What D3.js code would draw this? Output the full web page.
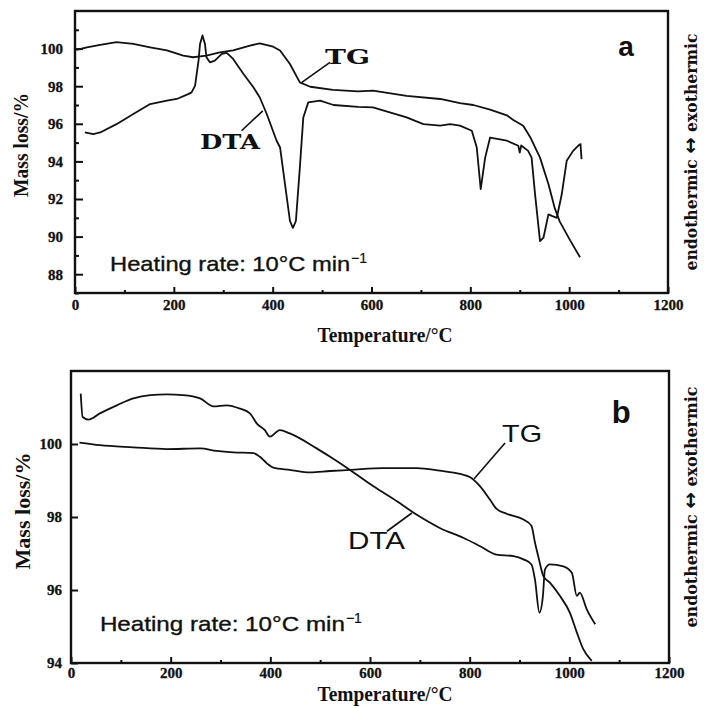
<!DOCTYPE html>
<html><head><meta charset="utf-8">
<script src="https://cdn.jsdelivr.net/npm/d3@7/dist/d3.min.js"></script>
<style>body{margin:0;background:#fff}svg{display:block}</style>
</head><body>
<script>
// ---------- data ----------
const xTicks = [0, 200, 400, 600, 800, 1000, 1200];
const xMinorTicks = [100, 300, 500, 700, 900, 1100];
const yTicksA = [88, 90, 92, 94, 96, 98, 100];
const yMinorA = [87, 89, 91, 93, 95, 97, 99, 101];
const yTicksB = [94, 96, 98, 100];
const yMinorB = [];

// Panel a: [temperature °C, value]
const tgA = [[3,99.93],[24,100.07],[51,100.2],[84,100.34],[118,100.25],[152,100.07],[186,99.9],[219,99.63],[239,99.54],[266,99.63],[293,99.8],[320,99.9],[354,100.16],[374,100.28],[401,100.1],[415,99.9],[435,99.18],[455,98.2],[476,97.97],[522,97.8],[573,97.72],[603,97.76],[671,97.49],[739,97.32],[779,97.1],[806,97.0],[840,96.75],[874,96.45],[887,96.2],[907,95.9],[921,95.3],[941,94.2],[958,92.8],[971,91.5],[981,90.8],[1002,89.8],[1022,88.9]];
const dtaA = [[20,95.54],[37,95.45],[51,95.54],[84,95.98],[118,96.52],[152,97.05],[186,97.23],[206,97.32],[229,97.58],[236,97.67],[243,98.03],[250,99.36],[253,100.25],[258,100.7],[263,100.25],[266,99.54],[273,99.27],[283,99.36],[297,99.72],[307,99.77],[320,99.45],[341,98.65],[361,97.94],[374,97.4],[388,96.52],[408,95.1],[415,94.74],[425,92.78],[435,90.83],[441,90.47],[447,90.83],[455,93.67],[462,96.34],[472,97.14],[496,97.23],[523,97.0],[573,96.9],[603,96.87],[671,96.34],[705,95.98],[739,95.9],[759,95.98],[779,95.9],[803,95.63],[813,94.74],[821,92.52],[830,94.2],[840,95.27],[874,95.1],[897,94.83],[900,94.47],[903,94.85],[917,94.56],[924,94.2],[931,92.25],[941,89.76],[948,89.94],[958,91.18],[965,91.1],[975,91.0],[985,92.25],[995,94.03],[1008,94.56],[1018,94.83],[1023,94.92],[1025,94.12]];

// Panel b
const tgB = [[17,100.04],[58,99.97],[125,99.91],[192,99.86],[259,99.88],[292,99.81],[326,99.77],[366,99.75],[379,99.65],[393,99.47],[406,99.35],[439,99.29],[480,99.22],[520,99.26],[560,99.29],[627,99.34],[694,99.34],[740,99.27],[781,99.18],[801,99.09],[821,98.84],[841,98.47],[854,98.22],[874,98.09],[908,97.93],[924,97.76],[931,97.3],[938,96.9],[948,96.38],[961,96.2],[981,95.84],[1001,95.38],[1015,94.84],[1028,94.38],[1045,94.06]];
const dtaB = [[19.5,101.38],[23.4,100.74],[35,100.67],[58,100.84],[92,101.06],[125,101.25],[159,101.34],[192,101.36],[225,101.34],[259,101.25],[286,101.03],[312,101.06],[339,100.97],[359,100.84],[373,100.56],[389,100.38],[399,100.2],[419,100.38],[439,100.29],[493,99.88],[520,99.65],[560,99.29],[607,98.84],[654,98.43],[694,98.06],[740,97.7],[787,97.43],[821,97.2],[854,96.97],[888,96.93],[908,96.84],[924,96.7],[931,96.29],[940,95.38],[947,95.84],[951,96.56],[961,96.7],[988,96.65],[1005,96.47],[1015,95.84],[1021,95.93],[1035,95.47],[1052,95.06]];

// annotations (data coordinates)
const leadersA = [[[459,98.2],[516,99.27]], [[337,95.63],[380,96.69]]];
const leadersB = [[[809,99.05],[871,100.03]], [[634,97.61],[684,98.11]]];
const seriesLabelsA = [{t:"TG", x:506, y:99.2, len:45}, {t:"DTA", x:253, y:94.67, len:60}];
const seriesLabelsB = [{t:"TG", x:865, y:100.05, len:40}, {t:"DTA", x:556, y:97.11, len:57}];
const panelLetters = [{t:"a", x:1115, y:99.63}, {t:"b", x:1104, y:100.57}];
const heatingPos = [{x:71, y:88.16}, {x:58, y:94.87}];

// ---------- drawing ----------
const W = 704, H = 708;
const svg = d3.select("body").append("svg").attr("width", W).attr("height", H);

const panels = [
  {id:"a", left:75, right:668, top:11, bottom:293, yDomain:[87,102], yTicks:yTicksA, yMinor:yMinorA,
   tg:tgA, dta:dtaA, leaders:leadersA, labels:seriesLabelsA, serif:true, letter:panelLetters[0], heat:heatingPos[0],
   heatLen:240, heatSize:21, xPad:6, yPad:12, yTickLen:8, massLen:104, massSize:20, massX:28, massY:145,
   tempY:342, endoY:152, endoLen:237, letterSize:28},
  {id:"b", left:71, right:669, top:371, bottom:663, yDomain:[94,102], yTicks:yTicksB, yMinor:yMinorB,
   tg:tgB, dta:dtaB, leaders:leadersB, labels:seriesLabelsB, serif:false, letter:panelLetters[1], heat:heatingPos[1],
   heatLen:245, heatSize:21, xPad:4, yPad:9, yTickLen:7, massLen:117, massSize:21, massX:30, massY:511,
   tempY:701, endoY:507, endoLen:241, letterSize:31}
];

const serif = "'Liberation Serif','Times New Roman',serif";
const sans = "'Liberation Sans',Arial,sans-serif";

panels.forEach((p, i) => {
  const g = svg.append("g");
  const x = d3.scaleLinear().domain([0, 1200]).range([p.left, p.right]);
  const y = d3.scaleLinear().domain(p.yDomain).range([p.bottom, p.top]);

  const clipId = "clip" + p.id;
  svg.append("clipPath").attr("id", clipId).append("rect")
    .attr("x", p.left).attr("y", p.top).attr("width", p.right - p.left).attr("height", p.bottom - p.top);

  // axes
  g.append("g").attr("transform", `translate(0,${p.bottom})`)
    .call(d3.axisBottom(x).tickValues(xTicks).tickSizeInner(-6).tickSizeOuter(0).tickPadding(p.xPad).tickFormat(d3.format("d")));
  g.append("g").attr("transform", `translate(0,${p.bottom})`)
    .call(d3.axisBottom(x).tickValues(xMinorTicks).tickSizeInner(-3).tickSizeOuter(0).tickFormat(""));
  g.append("g").attr("transform", `translate(${p.left},0)`)
    .call(d3.axisLeft(y).tickValues(p.yTicks).tickSizeInner(-p.yTickLen).tickSizeOuter(0).tickPadding(p.yPad).tickFormat(d3.format("d")));
  if (p.yMinor.length) g.append("g").attr("transform", `translate(${p.left},0)`)
    .call(d3.axisLeft(y).tickValues(p.yMinor).tickSizeInner(-4).tickSizeOuter(0).tickFormat(""));
  g.selectAll(".domain").remove();
  g.selectAll(".tick line").attr("stroke", "#111").attr("stroke-width", 2);
  g.selectAll(".tick text").attr("font-family", serif).attr("font-weight", "bold").attr("font-size", 15)
    .attr("fill", "#111").attr("stroke", "#111").attr("stroke-width", 0.3);

  // frame
  g.append("rect").attr("x", p.left).attr("y", p.top).attr("width", p.right - p.left).attr("height", p.bottom - p.top)
    .attr("fill", "none").attr("stroke", "#111").attr("stroke-width", 2.4);

  // curves
  const line = d3.line().x(d => x(d[0])).y(d => y(d[1])).curve(p.serif ? d3.curveLinear : d3.curveMonotoneX);
  const cg = g.append("g").attr("clip-path", `url(#${clipId})`);
  [p.tg, p.dta].forEach(s => cg.append("path").datum(s).attr("d", line)
    .attr("fill", "none").attr("stroke", "#111").attr("stroke-width", 1.8).attr("stroke-linejoin", "round"));

  // leader lines
  p.leaders.forEach(l => g.append("line")
    .attr("x1", x(l[0][0])).attr("y1", y(l[0][1])).attr("x2", x(l[1][0])).attr("y2", y(l[1][1]))
    .attr("stroke", "#111").attr("stroke-width", 1.6));

  // series labels
  p.labels.forEach(l => g.append("text").attr("x", x(l.x)).attr("y", y(l.y)).text(l.t)
    .attr("font-family", p.serif ? "'DejaVu Serif',serif" : sans)
    .attr("font-weight", p.serif ? "bold" : "normal")
    .attr("font-size", p.serif ? 21 : 24)
    .attr("textLength", l.len).attr("lengthAdjust", "spacingAndGlyphs").attr("fill", "#111"));

  // panel letter
  g.append("text").attr("x", x(p.letter.x)).attr("y", y(p.letter.y)).attr("text-anchor", "middle")
    .attr("font-family", sans).attr("font-weight", "bold").attr("font-size", p.letterSize).attr("fill", "#111").text(p.letter.t);

  // heating rate
  const hx = x(p.heat.x), hy = y(p.heat.y);
  g.append("text").attr("x", hx).attr("y", hy).attr("font-family", sans).attr("font-size", p.heatSize)
    .attr("textLength", p.heatLen).attr("lengthAdjust", "spacingAndGlyphs").attr("fill", "#111")
    .attr("stroke", "#111").attr("stroke-width", 0.35)
    .text("Heating rate: 10°C min");
  g.append("text").attr("x", hx + p.heatLen + 1).attr("y", hy - 8).attr("font-family", sans).attr("font-size", 14)
    .attr("fill", "#111").attr("stroke", "#111").attr("stroke-width", 0.2).text("−1");

  // axis titles
  g.append("text").attr("transform", `translate(${p.massX},${p.massY}) rotate(-90)`).attr("text-anchor", "middle")
    .attr("font-family", serif).attr("font-weight", "bold").attr("font-size", p.massSize)
    .attr("textLength", p.massLen).attr("lengthAdjust", "spacingAndGlyphs").attr("fill", "#111").text("Mass loss/%");
  g.append("text").attr("x", 385).attr("y", p.tempY).attr("text-anchor", "middle")
    .attr("font-family", serif).attr("font-weight", "bold").attr("font-size", 21)
    .attr("textLength", 135).attr("lengthAdjust", "spacingAndGlyphs").attr("fill", "#111").text("Temperature/°C");
  const et = g.append("text").attr("transform", `translate(697,${p.endoY}) rotate(-90)`).attr("text-anchor", "middle")
    .attr("font-family", "'DejaVu Serif',serif").attr("font-weight", "bold").attr("font-size", 16)
    .attr("textLength", p.endoLen).attr("lengthAdjust", "spacingAndGlyphs").attr("fill", "#111");
  et.append("tspan").text("endothermic ");
  et.append("tspan").attr("font-family", "'DejaVu Sans',sans-serif").attr("font-size", 20).text("↔");
  et.append("tspan").text(" exothermic");
});
</script>
</body></html>
